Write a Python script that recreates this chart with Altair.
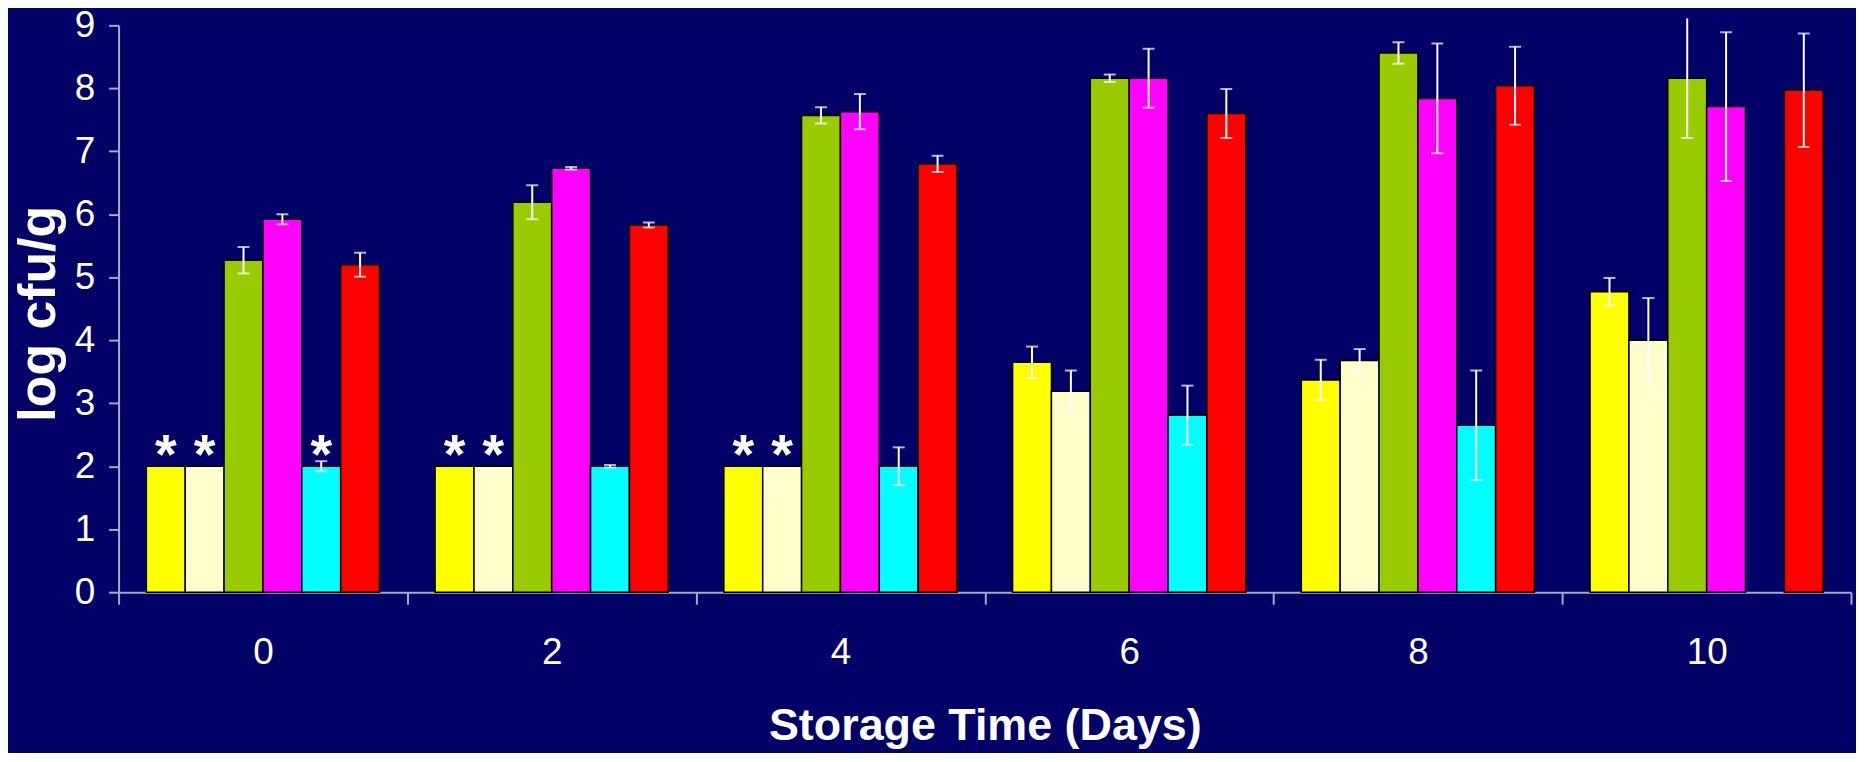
import altair as alt
import pandas as pd

# ---- data ----
days = ["0", "2", "4", "6", "8", "10"]
series = ["Series 1", "Series 2", "Series 3", "Series 4", "Series 5", "Series 6"]
colors = ["#ffff00", "#ffffcc", "#99cc00", "#ff00ff", "#00ffff", "#ff0000"]

s1 = [2.0, 2.0, 2.0, 3.65, 3.37, 4.77]
s1_err = [0, 0, 0, 0.25, 0.32, 0.22]
s2 = [2.0, 2.0, 2.0, 3.19, 3.68, 4.00]
s2_err = [0, 0, 0, 0.33, 0.18, 0.67]
s3 = [5.27, 6.19, 7.57, 8.16, 8.56, 8.16]
s3_err = [0.21, 0.27, 0.13, 0.06, 0.17, 0.95]
s4 = [5.92, 6.73, 7.63, 8.16, 7.84, 7.71]
s4_err = [0.08, 0.02, 0.28, 0.47, 0.87, 1.18]
s5 = [2.0, 2.0, 2.0, 2.81, 2.65, None]
s5_err = [0.08, 0.02, 0.30, 0.47, 0.87, None]
s6 = [5.20, 5.83, 6.80, 7.60, 8.04, 7.97]
s6_err = [0.19, 0.04, 0.13, 0.39, 0.62, 0.90]

# asterisks (below detection limit)
s1_star = [True, True, True, False, False, False]
s2_star = [True, True, True, False, False, False]
s5_star = [True, False, False, False, False, False]
no_star = [False] * 6

all_vals = [s1, s2, s3, s4, s5, s6]
all_errs = [s1_err, s2_err, s3_err, s4_err, s5_err, s6_err]
all_stars = [s1_star, s2_star, no_star, no_star, s5_star, no_star]

rows = []
for name, vals, errs, stars in zip(series, all_vals, all_errs, all_stars):
    for d, v, e, st in zip(days, vals, errs, stars):
        if v is None:
            continue
        rows.append({"day": d, "series": name, "value": v, "err": e or 0.0, "star": st})
df = pd.DataFrame(rows)
df["lo"] = df["value"] - df["err"]
df["hi"] = df["value"] + df["err"]
err_df = df[df["err"] > 0].copy()
star_df = df[df["star"]].copy()
cap_df = pd.concat([
    err_df.assign(v=err_df["lo"]),
    err_df.assign(v=err_df["hi"]),
])

AXC = "#a8a8c8"
FONT = "Liberation Sans"

x_axis = alt.Axis(
    title="Storage Time (Days)", labelAngle=0, tickBand="extent",
    tickSize=12, tickWidth=2, tickColor=AXC, domainColor=AXC, domainWidth=2,
    labelColor="white", labelFont=FONT, labelFontSize=37, labelPadding=31,
    titleFont=FONT, titleFontSize=45, titleFontWeight="bold", titleColor="white",
    titleY=148, titleBaseline="alphabetic", grid=False,
)
y_axis = alt.Axis(
    title="log cfu/g", values=list(range(10)), tickSize=10, tickWidth=2,
    tickColor=AXC, domainColor=AXC, domainWidth=2, grid=False,
    labelColor="white", labelFont=FONT, labelFontSize=37, labelPadding=14,
    titleFont=FONT, titleFontSize=52, titleFontWeight="bold", titleColor="white",
    titleX=-64, titleY=289, titleAngle=270, titleBaseline="alphabetic", titleAlign="center",
)

xs = alt.Scale(paddingInner=0, paddingOuter=0)
xos = alt.Scale(paddingInner=0, paddingOuter=0.715)
ys = alt.Scale(domain=[0, 9], nice=False, zero=True)

X = alt.X("day:N", sort=days, scale=xs, axis=x_axis)
XO = alt.XOffset("series:N", sort=series, scale=xos)

bars = alt.Chart(df).mark_bar(stroke="black", strokeWidth=1.5).encode(
    x=X, xOffset=XO,
    y=alt.Y("value:Q", scale=ys, axis=y_axis),
    color=alt.Color("series:N", scale=alt.Scale(domain=series, range=colors), legend=None),
)

rules = alt.Chart(err_df).mark_rule(color="white", strokeWidth=2).encode(
    x=X, xOffset=XO,
    y=alt.Y("lo:Q", scale=ys, axis=y_axis),
    y2="hi:Q",
)

caps = alt.Chart(cap_df).mark_tick(color="white", size=12, thickness=2, orient="horizontal", clip=True).encode(
    x=X, xOffset=XO,
    y=alt.Y("v:Q", scale=ys, axis=y_axis),
)

stars = alt.Chart(star_df).mark_text(
    text="*", color="white", font=FONT, fontSize=56, fontWeight="bold",
    baseline="alphabetic", dy=7,
).encode(
    x=X, xOffset=XO,
    y=alt.Y("value:Q", scale=ys, axis=y_axis),
)

chart = alt.layer(bars, rules, caps, stars).properties(
    width=1739, height=569, background="#000066",
    padding={"left": 111, "top": 16, "right": 5, "bottom": 160},
    autosize=alt.AutoSizeParams(type="none"),
).configure_view(stroke=None)

chart.save("out.html", embed_options={"renderer": "svg", "actions": False})
